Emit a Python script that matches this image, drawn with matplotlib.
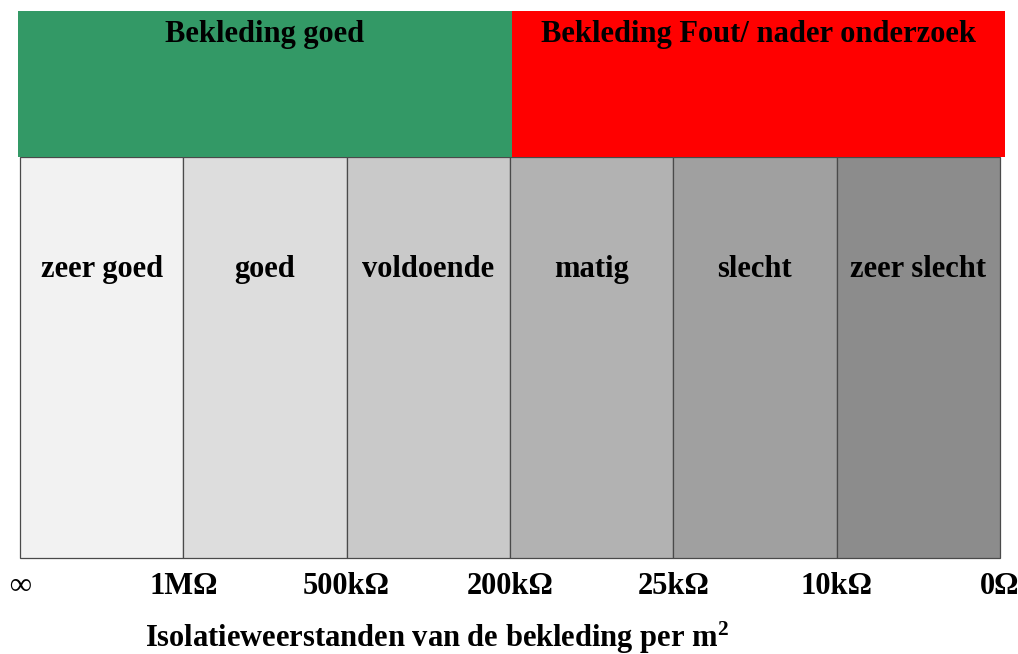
import numpy as np
from matplotlib import pyplot as plt

plt.rcParams["font.family"] = ["Liberation Serif", "DejaVu Serif"]
plt.rcParams["font.weight"] = "bold"
plt.rcParams["mathtext.fontset"] = "custom"
plt.rcParams["mathtext.rm"] = "Liberation Serif:bold"
plt.rcParams["mathtext.it"] = "Liberation Serif:bold"
plt.rcParams["mathtext.bf"] = "Liberation Serif:bold"

CATEGORIES = ["zeer goed", "goed", "voldoende", "matig", "slecht", "zeer slecht"]
SHADES = ["#f2f2f2", "#dddddd", "#c9c9c9", "#b2b2b2", "#a0a0a0", "#8c8c8c"]
TICK_LABELS = ["∞", "1MΩ", "500kΩ", "200kΩ", "25kΩ", "10kΩ", "0Ω"]
BANDS = ["Bekleding goed", "Bekleding Fout/ nader onderzoek"]
BAND_COLORS = ["#339966", "#ff0000"]

W, H = 1018, 654
fig = plt.figure(figsize=(W / 100, H / 100), dpi=100)

# grey rating panels
ax = fig.add_axes([20 / W, (H - 558) / H, 980 / W, (558 - 157) / H])
x = np.arange(len(CATEGORIES))
bars = ax.bar(x, 1, width=1, align="edge", color=SHADES, edgecolor="#4a4a4a", linewidth=0.9)
for b in bars:
    b.set_clip_on(False)
for i, name in enumerate(CATEGORIES):
    ax.text(i + 0.5, 0.72, name, ha="center", va="center", fontsize=22, fontweight="bold")
ax.set_xlim(0, len(CATEGORIES))
ax.set_ylim(0, 1)
ax.set_xticks(np.arange(len(TICK_LABELS)))
ax.set_xticklabels(TICK_LABELS, fontsize=22, fontweight="bold")
ax.tick_params(axis="x", length=0, pad=10)
ax.set_yticks([])
for s in ax.spines.values():
    s.set_visible(False)

# top verdict band
ax2 = fig.add_axes([18 / W, (H - 157) / H, 987 / W, (157 - 11) / H])
ax2.bar(np.arange(len(BANDS)), 1, width=1, align="edge", color=BAND_COLORS)
for i, name in enumerate(BANDS):
    ax2.text(i + 0.5, 0.84, name, ha="center", va="center", fontsize=22, fontweight="bold")
ax2.set_xlim(0, len(BANDS))
ax2.set_ylim(0, 1)
ax2.axis("off")

fig.text(437 / W, 1 - 647 / H, r"Isolatieweerstanden van de bekleding per m$^{2}$",
         ha="center", va="baseline", fontsize=22, fontweight="bold")

fig.savefig("out.png", dpi=100)
